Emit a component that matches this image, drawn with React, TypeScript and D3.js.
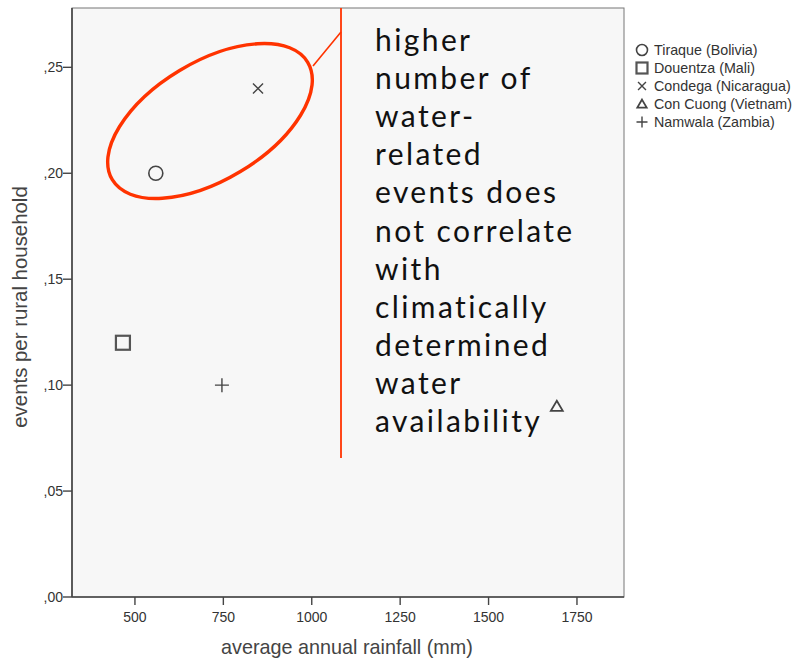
import React from "react";
import * as d3 from "d3";

const sites = ["Tiraque (Bolivia)", "Douentza (Mali)", "Condega (Nicaragua)", "Con Cuong (Vietnam)", "Namwala (Zambia)"];
const symbols = ["circle", "square", "cross", "triangle", "plus"];
const rainfall = [559, 466, 848, 1693, 746];
const events = [0.2, 0.12, 0.24, 0.09, 0.1];
const xTicks = [500, 750, 1000, 1250, 1500, 1750];
const yTicks = [0, 0.05, 0.1, 0.15, 0.2, 0.25];
const noteLines = ["higher", "number of", "water-", "related", "events does", "not correlate", "with", "climatically", "determined", "water", "availability"];

const W = 795, H = 658;
const L = 72, T = 8, R = 624, B = 597;
const SANS = "Liberation Sans, Arial, sans-serif";

export default function App() {
  const x = d3.scaleLinear().domain([322, 1883]).range([L, R]);
  const y = d3.scaleLinear().domain([0, 0.278]).range([B, T]);
  const red = "#ff3300";

  const marker = (s: string, cx: number, cy: number, size: number, key?: any) => {
    const st = { fill: "none", stroke: "#444", strokeWidth: 1.4 };
    const h = size / 2;
    switch (s) {
      case "circle":
        return <circle key={key} cx={cx} cy={cy} r={h} {...st} strokeWidth={1.6} />;
      case "square":
        return <rect key={key} x={cx - h} y={cy - h} width={size} height={size} {...st} strokeWidth={2.2} stroke="#555" />;
      case "cross":
        return <path key={key} d={`M${cx - h * 0.72},${cy - h * 0.72}L${cx + h * 0.72},${cy + h * 0.72}M${cx - h * 0.72},${cy + h * 0.72}L${cx + h * 0.72},${cy - h * 0.72}`} {...st} />;
      case "triangle":
        return <path key={key} d={`M${cx},${cy - h * 0.8}L${cx + h * 0.85},${cy + h * 0.65}L${cx - h * 0.85},${cy + h * 0.65}Z`} {...st} strokeWidth={1.8} />;
      default:
        return <path key={key} d={`M${cx - h},${cy}L${cx + h},${cy}M${cx},${cy - h}L${cx},${cy + h}`} {...st} />;
    }
  };

  const fmtY = (v: number) => "," + d3.format(".2f")(v).split(".")[1];

  return (
    <svg width={W} height={H} style={{ position: "absolute", left: 0, top: 0, background: "#fff" }}>
      <rect x={L} y={T} width={R - L} height={B - T} fill="#f7f7f7" stroke="#777" strokeWidth={1} />
      <line x1={L} x2={L} y1={T} y2={B} stroke="#444" strokeWidth={1.6} />
      <line x1={L} x2={R} y1={B} y2={B} stroke="#444" strokeWidth={1.6} />
      {yTicks.map((t) => (
        <g key={"y" + t}>
          <line x1={L - 9} x2={L} y1={y(t)} y2={y(t)} stroke="#444" strokeWidth={1.4} />
          <text x={L - 9} y={y(t) + 5} textAnchor="end" fontFamily={SANS} fontSize={14} fill="#333">{fmtY(t)}</text>
        </g>
      ))}
      {xTicks.map((t) => (
        <g key={"x" + t}>
          <line x1={x(t)} x2={x(t)} y1={B} y2={B + 8} stroke="#444" strokeWidth={1.4} />
          <text x={x(t)} y={B + 25} textAnchor="middle" fontFamily={SANS} fontSize={14} fill="#333">{t}</text>
        </g>
      ))}
      <text x={347} y={654} textAnchor="middle" fontFamily={SANS} fontSize={19.8} fill="#444">average annual rainfall (mm)</text>
      <text transform="translate(27,307) rotate(-90)" textAnchor="middle" fontFamily={SANS} fontSize={20.4} fill="#444">events per rural household</text>

      {rainfall.map((r, i) => marker(symbols[i], x(r), y(events[i]), 14, "m" + i))}

      <ellipse cx={210} cy={121} rx={114} ry={59} transform="rotate(-31,210,121)" fill="none" stroke={red} strokeWidth={3.4} />
      <line x1={313} y1={66} x2={341} y2={32} stroke={red} strokeWidth={1.6} />
      <line x1={341} y1={T} x2={341} y2={458} stroke={red} strokeWidth={1.8} />

      {noteLines.map((s, i) => (
        <text key={"n" + i} x={375} y={51 + i * 38.1} fontFamily="Lato, sans-serif" fontSize={30} letterSpacing={2.4} fill="#111">{s}</text>
      ))}

      {sites.map((s, i) => (
        <g key={"l" + i}>
          {marker(symbols[i], 642, 50 + i * 18, 11)}
          <text x={654} y={55 + i * 18} fontFamily={SANS} fontSize={14.3} fill="#333">{s}</text>
        </g>
      ))}
    </svg>
  );
}
